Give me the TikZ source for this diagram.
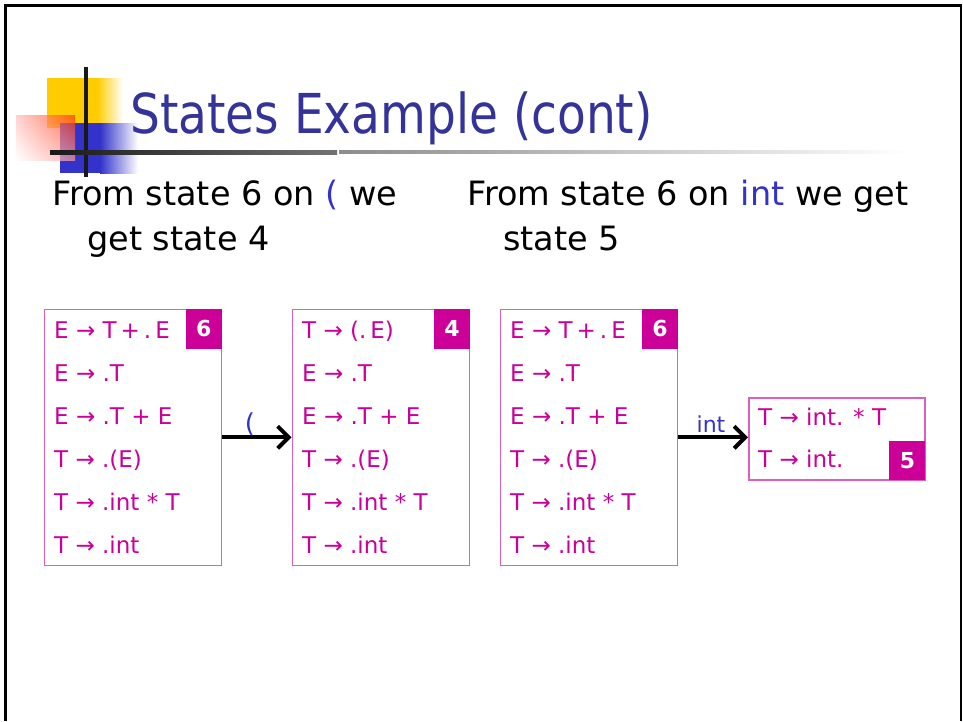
\documentclass[tikz,border=0pt]{standalone}
\usepackage{fontspec}
\usepackage{graphicx}
\setmainfont{DejaVu Sans}
\usetikzlibrary{arrows.meta,shadings}
\definecolor{titleblue}{HTML}{333399}
\definecolor{mag}{HTML}{CC0099}
\definecolor{pinkline}{HTML}{E060B8}
\definecolor{lblue}{HTML}{3333CC}
\definecolor{yel}{HTML}{FFCC00}
\definecolor{redd}{HTML}{FF3300}
\tikzset{
 item/.style={anchor=base west, inner sep=0pt, text=mag, font=\fontsize{23}{23}\selectfont},
 statebox/.style={draw=pinkline, line width=1.6pt, inner sep=0pt, anchor=north west},
 numbox/.style={fill=mag, inner sep=0pt, minimum width=36pt, minimum height=40pt, text=white, font=\bfseries\fontsize{22}{22}\selectfont},
 body/.style={anchor=base west, inner sep=0pt, font=\fontsize{33.5}{40}\selectfont},
 arr/.style={line width=4pt, -{Straight Barb[length=11pt,width=22pt]}},
 arrlabel/.style={text=lblue, font=\fontsize{22}{22}\selectfont, inner sep=0pt}
}
\newcommand{\tsp}{\hspace{4pt}}
\begin{document}
\begin{tikzpicture}[x=1pt,y=-1pt]
\useasboundingbox (0,0) rectangle (963,721);
\fill[white] (0,0) rectangle (963,721);
% slide frame
\draw[line width=2.5pt] (5.5,721) -- (5.5,5.5) -- (961,5.5) -- (961,721);
% decoration
\fill[yel] (47,78) rectangle (97,128);
\shade[left color=yel, right color=white] (97,78) rectangle (123,128);
\fill[lblue] (60,123) rectangle (100,173);
\shade[left color=lblue, right color=white] (100,123) rectangle (138,173);
\shade[opacity=0.7, upper right=redd, upper left=red!25, lower left=white, lower right=red!40] (16,115) rectangle (75,160);
\fill[black!90] (83.5,67) rectangle (87.5,177);
\shade[left color=black!90, right color=black!55] (50,150.5) rectangle (337,154);
\shade[left color=black!45, right color=white] (339,150.5) rectangle (910,153.5);
% title
\node[anchor=base west, inner sep=0pt, text=titleblue, font=\fontsize{55}{60}\selectfont] (title) at (130,133) {\scalebox{0.855}[1]{States Example (cont)}};
% body text
\node[body] (t1) at (52,205) {From state 6 on {\color{lblue}(} we};
\node[body] (t2) at (87,250) {get state 4};
\node[body] (t3) at (467,205) {From state 6 on {\color{lblue}int} we get};
\node[body] (t4) at (503,250) {state 5};
% state boxes
\node[statebox, minimum width=177pt, minimum height=256pt] (s1) at (43.5,308.5) {};
\node[statebox, minimum width=177pt, minimum height=256pt] (s2) at (291.5,308.5) {};
\node[statebox, minimum width=177pt, minimum height=256pt] (s3) at (499.5,308.5) {};
\node[statebox, minimum width=176pt, minimum height=82pt] (s4) at (748,397) {};
\node[numbox, anchor=north east] (n1) at (s1.north east) {6};
\node[numbox, anchor=north east] (n2) at (s2.north east) {4};
\node[numbox, anchor=north east] (n3) at (s3.north east) {6};
\node[numbox, anchor=south east, minimum height=39pt] (n4) at (s4.south east) {5};
% items box 1
\node[item] (a1) at (54,338) {E → T\tsp+\tsp.\tsp E};
\node[item] (a2) at (54,381) {E → .T};
\node[item] (a3) at (54,424) {E → .T + E};
\node[item] (a4) at (54,467) {T → .(E)};
\node[item] (a5) at (54,510) {T → .int * T};
\node[item] (a6) at (54,553) {T → .int};
% items box 2
\node[item] (b1) at (302,338) {T → (.\tsp E)};
\node[item] (b2) at (302,381) {E → .T};
\node[item] (b3) at (302,424) {E → .T + E};
\node[item] (b4) at (302,467) {T → .(E)};
\node[item] (b5) at (302,510) {T → .int * T};
\node[item] (b6) at (302,553) {T → .int};
% items box 3
\node[item] (c1) at (510,338) {E → T\tsp+\tsp.\tsp E};
\node[item] (c2) at (510,381) {E → .T};
\node[item] (c3) at (510,424) {E → .T + E};
\node[item] (c4) at (510,467) {T → .(E)};
\node[item] (c5) at (510,510) {T → .int * T};
\node[item] (c6) at (510,553) {T → .int};
% items box 4
\node[item] (d1) at (758,425) {T → int. * T};
\node[item] (d2) at (758,467.5) {T → int.};
% transitions
\draw[arr] (s1.east) -- (s2.west);
\draw[arr] (s3.east) -- (s3.east -| s4.west);
\node[arrlabel, font=\fontsize{26}{26}\selectfont] (l1) at (250,424) {(};
\node[arrlabel] (l2) at (711,424) {int};
\end{tikzpicture}
\end{document}
